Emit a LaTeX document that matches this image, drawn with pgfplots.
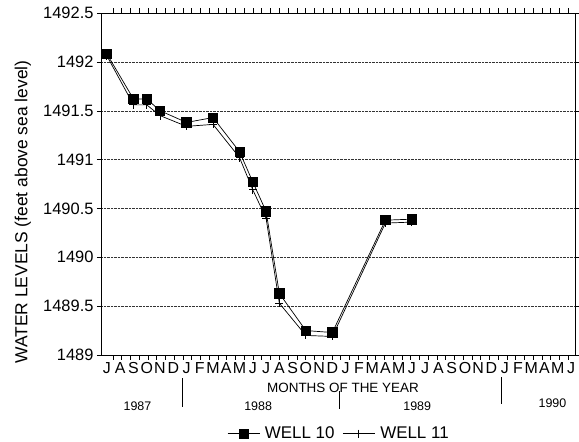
\documentclass[border=0pt]{standalone}
\usepackage{pgfplots}
\pgfplotsset{compat=1.18}
\usepackage{fontspec}
\setmainfont{Liberation Sans}
\begin{document}
\begin{tikzpicture}
\begin{axis}[
  scale only axis, width=474bp, height=342bp,
  xmin=-0.45, xmax=35.3, ymin=1489, ymax=1492.5,
  ytick={1489,1489.5,1490,1490.5,1491,1491.5,1492,1492.5},
  ymajorgrids, grid style={densely dotted, thin, black!80},
  xtick={0,...,35},
  xticklabels={J,A,S,O,N,D,J,F,M,A,M,J,J,A,S,O,N,D,J,F,M,A,M,J,J,A,S,O,N,D,J,F,M,A,M,J},
  minor xtick={0.45,1.11,...,35.2},
  major x tick style={draw=none},
  tick align=outside, major tick length=4bp, minor tick length=5bp,
  tick style={black, thin},
  axis line style={thin},
  x tick label style={font=\fontsize{16}{18}\selectfont, inner sep=1pt, yshift=-2bp},
  y tick label style={font=\fontsize{16.5}{18}\selectfont, /pgf/number format/1000 sep={}, /pgf/number format/assume math mode=true},
  ylabel={WATER LEVELS (feet above sea level)},
  ylabel style={at={(axis description cs:-0.165,0.418)}, anchor=center, font=\fontsize{17.5}{20}\selectfont},
  clip=false,
  legend columns=2,
  legend style={draw=none, fill=none, at={(axis description cs:0.502,-0.23)}, anchor=center, font=\fontsize{17}{19}\selectfont, /tikz/every even column/.append style={column sep=6bp}, /tikz/every odd column/.append style={column sep=3bp}},
  legend image code/.code={\draw[mark repeat=2,mark phase=2] plot coordinates {(0bp,0bp) (16bp,0bp) (32bp,0bp)};},
]
\addplot[black, line width=0.7pt, mark=square*, mark size=4.7pt, mark options={solid}] coordinates {
(0,1492.08) (2,1491.62) (3,1491.62) (4,1491.50) (6,1491.38) (8,1491.43) (10,1491.08) (11,1490.77) (12,1490.47) (13,1489.63) (15,1489.25) (17,1489.23) (21,1490.38) (23,1490.39)
};
\addlegendentry{WELL 10}
\addplot[black, line width=0.7pt, mark=+, mark size=4pt, mark options={solid, line width=1pt}] coordinates {
(0,1492.06) (2,1491.56) (3,1491.56) (4,1491.45) (6,1491.34) (8,1491.36) (10,1491.02) (11,1490.69) (12,1490.40) (13,1489.53) (15,1489.20) (17,1489.19) (21,1490.35) (23,1490.36)
};
\addlegendentry{WELL 11}
\draw[thin] ([yshift=-23bp]axis cs:5.65,1489) -- ([yshift=-52bp]axis cs:5.65,1489);
\draw[thin] ([yshift=-36bp]axis cs:17.55,1489) -- ([yshift=-54bp]axis cs:17.55,1489);
\draw[thin] ([yshift=-22bp]axis cs:29.7,1489) -- ([yshift=-49bp]axis cs:29.7,1489);
\node[font=\fontsize{13.5}{15}\selectfont] at ([yshift=-33bp]axis cs:17.8,1489) {MONTHS OF THE YEAR};
\node[font=\fontsize{12.5}{14}\selectfont] at ([yshift=-51bp]axis cs:2.3,1489) {1987};
\node[font=\fontsize{12.5}{14}\selectfont] at ([yshift=-51bp]axis cs:11.4,1489) {1988};
\node[font=\fontsize{12.5}{14}\selectfont] at ([yshift=-51bp]axis cs:23.4,1489) {1989};
\node[font=\fontsize{12.5}{14}\selectfont] at ([yshift=-48bp]axis cs:33.6,1489) {1990};
\end{axis}
\pgfresetboundingbox
\path ([shift={(-101bp,-87bp)}]current axis.south west) rectangle ([shift={(4bp,13bp)}]current axis.north east);
\end{tikzpicture}
\end{document}
